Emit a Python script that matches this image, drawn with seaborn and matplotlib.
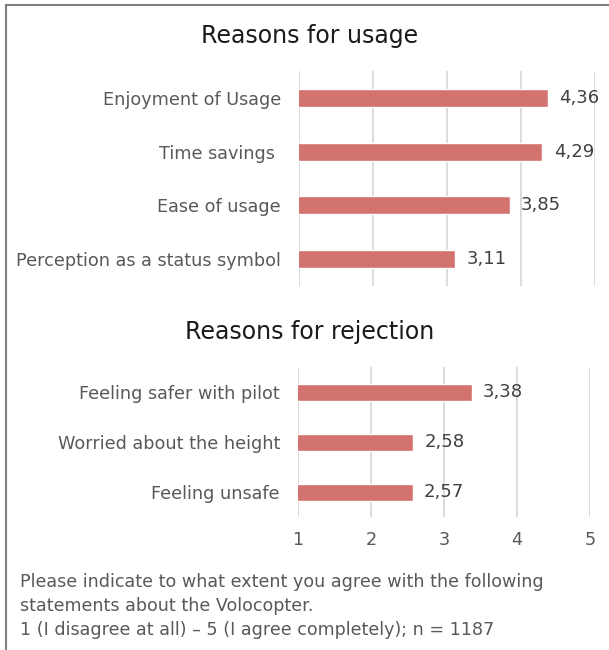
import matplotlib
matplotlib.use("Agg")
import matplotlib.pyplot as plt
import seaborn as sns
import pandas as pd
from matplotlib.lines import Line2D

usage_categories = ["Enjoyment of Usage", "Time savings ", "Ease of usage", "Perception as a status symbol"]
usage_values = [4.36, 4.29, 3.85, 3.11]
reject_categories = ["Feeling safer with pilot", "Worried about the height", "Feeling unsafe"]
reject_values = [3.38, 2.58, 2.57]
x_ticks = [1, 2, 3, 4, 5]
title_usage = "Reasons for usage"
title_reject = "Reasons for rejection"
footnote = ["Please indicate to what extent you agree with the following",
            "statements about the Volocopter.",
            "1 (I disagree at all) \u2013 5 (I agree completely); n = 1187"]

sns.set_theme(style="white")
plt.rcParams['font.family'] = ['DejaVu Sans']

BAR = "#D37370"
GRID = "#D9D9D9"
TXT = "#595959"

fig = plt.figure(figsize=(6.09, 6.5), dpi=100)
W, H = 609, 650

def px_axes(x0, x1, y0, y1):
    return fig.add_axes([x0 / W, 1 - y1 / H, (x1 - x0) / W, (y1 - y0) / H])

ax1 = px_axes(299, 595, 71, 286)
ax2 = px_axes(298, 590, 367, 517)

df1 = pd.DataFrame({"cat": usage_categories, "val": usage_values})
df2 = pd.DataFrame({"cat": reject_categories, "val": reject_values})

for ax, df, width in [(ax1, df1, 0.333), (ax2, df2, 0.34)]:
    sns.barplot(data=df, x="val", y="cat", orient="h", color=BAR, width=width,
                saturation=1, ax=ax, zorder=3)
    ax.set_xlim(1, 5)
    ax.set_xticks(x_ticks)
    for xv in x_ticks:
        ax.axvline(xv, color=GRID, lw=1.3, zorder=1)
    for s in ax.spines.values():
        s.set_visible(False)
    ax.set_xlabel("")
    ax.set_ylabel("")
    ax.tick_params(axis="y", length=0, pad=13, labelsize=12.7, labelcolor=TXT)
    ax.tick_params(axis="x", length=0, labelsize=12.7, labelcolor=TXT, pad=10)
    labels = [f"{v:.2f}".replace(".", ",") for v in df["val"]]
    ax.bar_label(ax.containers[0], labels=labels, padding=8, fontsize=13, color="#404040")

ax1.set_xticklabels([])

fig.text(310 / W, 1 - 36 / H, title_usage, ha="center", va="center", fontsize=17, color="#1a1a1a")
fig.text(310 / W, 1 - 332 / H, title_reject, ha="center", va="center", fontsize=17, color="#1a1a1a")

for i, line in enumerate(footnote):
    fig.text(20 / W, 1 - (582 + 24 * i) / H, line, ha="left", va="center", fontsize=12.6, color=TXT)

fig.add_artist(Line2D([6 / W, 6 / W], [0, 1 - 5 / H], transform=fig.transFigure, color="#7F7F7F", lw=1.5))
fig.add_artist(Line2D([6 / W, 1], [1 - 5 / H, 1 - 5 / H], transform=fig.transFigure, color="#7F7F7F", lw=1.5))

fig.savefig("out.png", dpi=100, facecolor="white")
